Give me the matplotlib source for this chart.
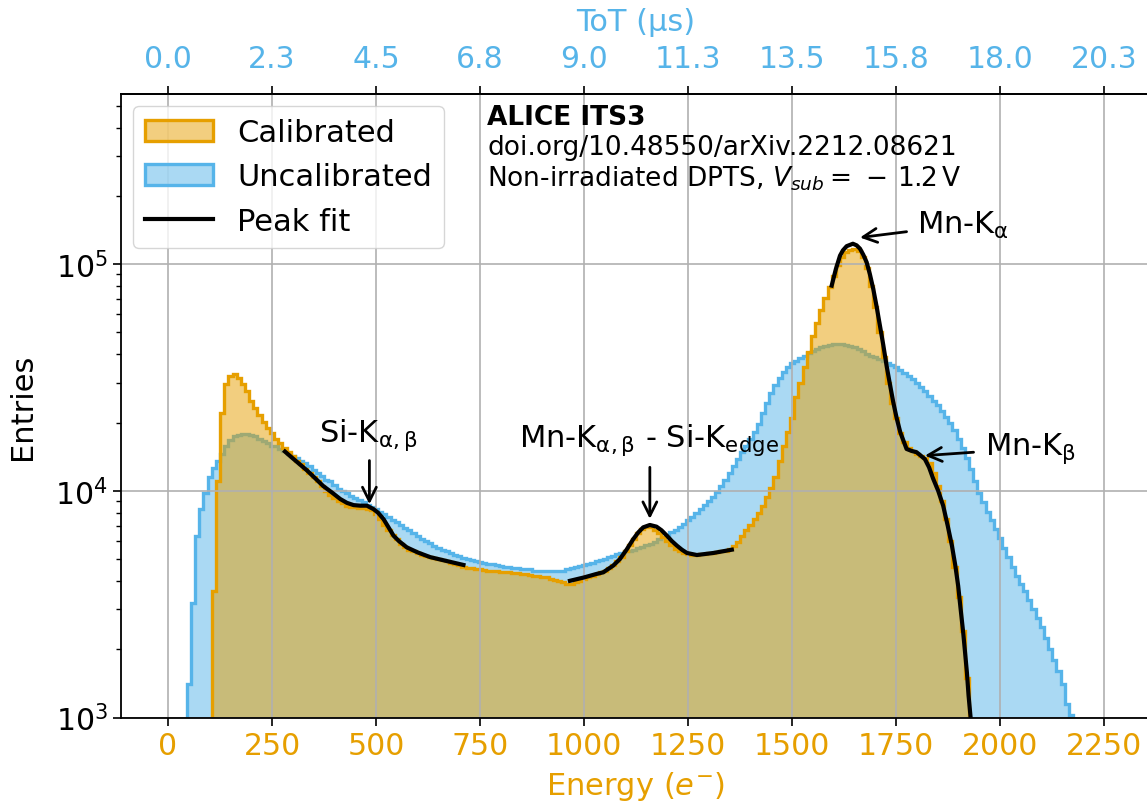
import numpy as np
import matplotlib.pyplot as plt
from matplotlib.colors import to_rgba

ORANGE = '#E69F00'
BLUE = '#56B4E9'

# histogram contents, 10 e- wide bins
bin_width = 10
cal_start = 105
cal_counts = [
    3.6e3, 1.1e4, 2.2e4, 2.95e4, 3.22e4, 3.27e4, 3.15e4, 2.95e4, 2.75e4, 2.5e4,         # 105-205
    2.32e4, 2.15e4, 2.02e4, 1.9e4, 1.8e4, 1.7e4, 1.62e4, 1.55e4, 1.48e4, 1.42e4,        # 205-305
    1.36e4, 1.31e4, 1.25e4, 1.2e4, 1.15e4, 1.1e4, 1.05e4, 1.0e4, 9.6e3, 9.3e3,          # 305-405
    9.0e3, 8.8e3, 8.6e3, 8.5e3, 8.45e3, 8.4e3, 8.4e3, 8.35e3, 8.2e3, 7.9e3,             # 405-505
    7.5e3, 7.1e3, 6.7e3, 6.4e3, 6.1e3, 5.85e3, 5.65e3, 5.5e3, 5.4e3, 5.3e3,             # 505-605
    5.2e3, 5.15e3, 5.1e3, 5.05e3, 5.0e3, 4.95e3, 4.9e3, 4.8e3, 4.75e3, 4.7e3,           # 605-705
    4.62e3, 4.58e3, 4.55e3, 4.52e3, 4.5e3, 4.48e3, 4.45e3, 4.42e3, 4.42e3, 4.4e3,       # 705-805
    4.4e3, 4.38e3, 4.36e3, 4.33e3, 4.3e3, 4.28e3, 4.25e3, 4.22e3, 4.2e3, 4.17e3,        # 805-905
    4.15e3, 4.1e3, 4.05e3, 4.0e3, 3.95e3, 3.9e3, 3.88e3, 3.95e3, 4.02e3, 4.08e3,        # 905-1005
    4.15e3, 4.22e3, 4.3e3, 4.38e3, 4.45e3, 4.55e3, 4.7e3, 4.9e3, 5.1e3, 5.4e3,          # 1005-1105
    5.75e3, 6.1e3, 6.5e3, 6.8e3, 6.95e3, 6.9e3, 6.75e3, 6.5e3, 6.25e3, 6.0e3,           # 1105-1205
    5.75e3, 5.55e3, 5.4e3, 5.3e3, 5.25e3, 5.22e3, 5.22e3, 5.25e3, 5.28e3, 5.3e3,        # 1205-1305
    5.32e3, 5.35e3, 5.4e3, 5.45e3, 5.55e3, 5.7e3, 5.95e3, 6.3e3, 6.7e3, 7.1e3,          # 1305-1405
    7.5e3, 8.0e3, 8.6e3, 9.4e3, 1.03e4, 1.15e4, 1.35e4, 1.58e4, 1.82e4, 2.1e4,          # 1405-1505
    2.6e4, 3.0e4, 3.5e4, 4.1e4, 4.8e4, 5.5e4, 6.3e4, 7.1e4, 7.9e4, 8.9e4,               # 1505-1605
    9.9e4, 1.07e5, 1.13e5, 1.16e5, 1.17e5, 1.14e5, 1.07e5, 9.6e4, 8.0e4, 6.5e4,         # 1605-1705
    5.0e4, 3.9e4, 3.0e4, 2.45e4, 2.1e4, 1.8e4, 1.65e4, 1.55e4, 1.5e4, 1.46e4,           # 1705-1805
    1.43e4, 1.39e4, 1.33e4, 1.2e4, 1.05e4, 9.0e3, 7.5e3, 6.0e3, 4.6e3, 3.4e3,           # 1805-1905
    2.4e3, 1.5e3,                                                                        # 1905-1925
]
uncal_start = 45
uncal_counts = [
    1.4e3, 3.2e3, 6.3e3, 8.3e3, 9.8e3, 1.15e4, 1.26e4, 1.35e4, 1.45e4, 1.58e4,          # 45-145
    1.68e4, 1.74e4, 1.77e4, 1.78e4, 1.78e4, 1.76e4, 1.74e4, 1.70e4, 1.66e4, 1.62e4,     # 145-245
    1.58e4, 1.57e4, 1.53e4, 1.50e4, 1.46e4, 1.43e4, 1.40e4, 1.36e4, 1.32e4, 1.29e4,     # 245-345
    1.24e4, 1.20e4, 1.16e4, 1.12e4, 1.10e4, 1.06e4, 1.02e4, 1.0e4, 9.8e3, 9.5e3,        # 345-445
    9.3e3, 9.1e3, 8.9e3, 8.7e3, 8.5e3, 8.3e3, 8.1e3, 7.9e3, 7.7e3, 7.45e3,              # 445-545
    7.25e3, 7.05e3, 6.85e3, 6.7e3, 6.5e3, 6.35e3, 6.15e3, 6.0e3, 5.9e3, 5.7e3,          # 545-645
    5.6e3, 5.5e3, 5.4e3, 5.3e3, 5.2e3, 5.15e3, 5.05e3, 5.0e3, 4.95e3, 4.9e3,            # 645-745
    4.85e3, 4.8e3, 4.75e3, 4.75e3, 4.7e3, 4.65e3, 4.6e3, 4.6e3, 4.55e3, 4.55e3,         # 745-845
    4.5e3, 4.5e3, 4.5e3, 4.45e3, 4.45e3, 4.45e3, 4.45e3, 4.45e3, 4.45e3, 4.45e3,        # 845-945
    4.45e3, 4.5e3, 4.55e3, 4.6e3, 4.65e3, 4.7e3, 4.75e3, 4.8e3, 4.9e3, 4.95e3,          # 945-1045
    5.0e3, 5.1e3, 5.15e3, 5.25e3, 5.3e3, 5.4e3, 5.45e3, 5.5e3, 5.6e3, 5.65e3,           # 1045-1145
    5.75e3, 5.85e3, 5.95e3, 6.1e3, 6.25e3, 6.35e3, 6.55e3, 6.75e3, 6.95e3, 7.15e3,      # 1145-1245
    7.4e3, 7.65e3, 7.95e3, 8.3e3, 8.65e3, 9.0e3, 9.4e3, 9.9e3, 1.05e4, 1.12e4,          # 1245-1345
    1.2e4, 1.29e4, 1.38e4, 1.48e4, 1.58e4, 1.7e4, 1.82e4, 1.98e4, 2.2e4, 2.45e4,        # 1345-1445
    2.7e4, 2.92e4, 3.15e4, 3.35e4, 3.5e4, 3.65e4, 3.75e4, 3.85e4, 3.95e4, 4.05e4,       # 1445-1545
    4.15e4, 4.22e4, 4.3e4, 4.37e4, 4.42e4, 4.45e4, 4.45e4, 4.44e4, 4.4e4, 4.35e4,       # 1545-1645
    4.3e4, 4.22e4, 4.13e4, 4.03e4, 3.95e4, 3.88e4, 3.82e4, 3.75e4, 3.68e4, 3.6e4,       # 1645-1745
    3.5e4, 3.4e4, 3.32e4, 3.22e4, 3.1e4, 2.98e4, 2.88e4, 2.75e4, 2.62e4, 2.5e4,         # 1745-1845
    2.38e4, 2.25e4, 2.12e4, 2.0e4, 1.85e4, 1.7e4, 1.55e4, 1.4e4, 1.25e4, 1.1e4,         # 1845-1945
    9.8e3, 8.9e3, 8.1e3, 7.4e3, 6.8e3, 6.2e3, 5.6e3, 5.1e3, 4.6e3, 4.2e3,               # 1945-2045
    3.9e3, 3.6e3, 3.3e3, 3.0e3, 2.75e3, 2.5e3, 2.25e3, 2.0e3, 1.8e3, 1.6e3,             # 2045-2145
    1.4e3, 1.15e3, 1.03e3,                                                               # 2145-2175
]

# peak fit curves
si_fit_energy = [281, 300, 334, 355, 373, 395, 414, 430, 446, 462, 478, 494, 505, 518,
                 530, 542, 555, 574, 600, 630, 670, 710]
si_fit_counts = [1.49e4, 1.39e4, 1.23e4, 1.13e4, 1.05e4, 9.8e3, 9.2e3, 8.85e3, 8.65e3,
                 8.6e3, 8.6e3, 8.3e3, 8.0e3, 7.5e3, 6.9e3, 6.34e3, 6.0e3, 5.63e3,
                 5.35e3, 5.1e3, 4.9e3, 4.71e3]
edge_fit_energy = [966, 1000, 1030, 1046, 1070, 1086, 1102, 1118, 1130, 1142, 1158, 1174,
                   1186, 1199, 1211, 1223, 1235, 1247, 1271, 1311, 1355]
edge_fit_counts = [4.01e3, 4.15e3, 4.3e3, 4.37e3, 4.68e3, 5.0e3, 5.5e3, 6.12e3, 6.55e3,
                   6.9e3, 7.07e3, 6.95e3, 6.7e3, 6.34e3, 6.0e3, 5.73e3, 5.5e3, 5.32e3,
                   5.21e3, 5.32e3, 5.5e3]
mn_fit_energy = [1595, 1605, 1615, 1622, 1631, 1646, 1655, 1663, 1671, 1679, 1687, 1695,
                 1703, 1711, 1719, 1727, 1735, 1743, 1751, 1760, 1775, 1787, 1799, 1807,
                 1819, 1829, 1839, 1851, 1863, 1874, 1884, 1892, 1899, 1905, 1911, 1916,
                 1920, 1924, 1930]
mn_fit_counts = [8.04e4, 9.5e4, 1.09e5, 1.15e5, 1.20e5, 1.23e5, 1.21e5, 1.17e5, 1.10e5,
                 1.02e5, 9.0e4, 7.76e4, 6.5e4, 5.35e4, 4.4e4, 3.56e4, 2.95e4, 2.46e4,
                 2.1e4, 1.81e4, 1.53e4, 1.5e4, 1.48e4, 1.44e4, 1.38e4, 1.27e4, 1.13e4,
                 1.0e4, 8.59e3, 7.0e3, 5.73e3, 4.7e3, 3.81e3, 3.0e3, 2.38e3, 1.9e3,
                 1.58e3, 1.25e3, 9.5e2]

energy_ticks = [0, 250, 500, 750, 1000, 1250, 1500, 1750, 2000, 2250]
tot_labels = ['0.0', '2.3', '4.5', '6.8', '9.0', '11.3', '13.5', '15.8', '18.0', '20.3']

fig = plt.figure(figsize=(11.47, 8.04), dpi=100)
ax = fig.add_axes([0.1055, 0.1063, 0.8971, 0.7760])

uncal_edges = uncal_start + bin_width * np.arange(len(uncal_counts) + 1)
cal_edges = cal_start + bin_width * np.arange(len(cal_counts) + 1)
h_uncal = ax.stairs(uncal_counts, uncal_edges, baseline=1, fill=True,
                    facecolor=to_rgba(BLUE, 0.5), edgecolor=BLUE, lw=2.4,
                    label='Uncalibrated')
h_cal = ax.stairs(cal_counts, cal_edges, baseline=1, fill=True,
                  facecolor=to_rgba(ORANGE, 0.5), edgecolor=ORANGE, lw=2.4,
                  label='Calibrated')

fit_line, = ax.plot(si_fit_energy, si_fit_counts, color='k', lw=3, label='Peak fit')
ax.plot(edge_fit_energy, edge_fit_counts, color='k', lw=3)
ax.plot(mn_fit_energy, mn_fit_counts, color='k', lw=3)

ax.set_yscale('log')
ax.set_xlim(-113, 2360)
ax.set_ylim(1e3, 5.65e5)
ax.set_xticks(energy_ticks)
ax.grid(True, which='major', color='#b0b0b0', lw=1.2)
ax.tick_params(axis='both', which='major', labelsize=21.5, length=6, width=1.2)
ax.tick_params(axis='y', which='minor', length=3.5, width=1.0)
ax.tick_params(axis='x', labelcolor=ORANGE)
for s in ax.spines.values():
    s.set_linewidth(1.3)

ax.set_xlabel('Energy ($e^{-}$)', color=ORANGE, fontsize=22, labelpad=7)
ax.set_ylabel('Entries', fontsize=22, labelpad=13)

sec = ax.secondary_xaxis('top')
sec.set_xticks(energy_ticks, labels=tot_labels)
sec.tick_params(axis='x', labelsize=21.5, length=6, width=1.2, pad=9, labelcolor=BLUE)
sec.set_xlabel('ToT (µs)', color=BLUE, fontsize=22, labelpad=10)
sec.spines['top'].set_linewidth(1.3)

ax.legend(handles=[h_cal, h_uncal, fit_line], loc='upper left', fontsize=22,
          handlelength=2.2, borderaxespad=0.4)

ax.text(0.3557, 0.9512, 'ALICE ITS3', transform=ax.transAxes, fontsize=19,
        fontweight='bold', va='baseline')
ax.text(0.3557, 0.9030, 'doi.org/10.48550/arXiv.2212.08621', transform=ax.transAxes,
        fontsize=19, va='baseline')
ax.text(0.3557, 0.8524, r'Non-irradiated DPTS, $V_{sub} = \,-\,1.2\,\mathrm{V}$',
        transform=ax.transAxes, fontsize=19, va='baseline')

arrow = dict(arrowstyle='->', color='k', lw=2, mutation_scale=25, shrinkA=0, shrinkB=0)

ax.text(481, 1.66e4, r'Si-K$_{\mathrm{\alpha, \beta}}$', fontsize=22, ha='center',
        va='baseline')
ax.annotate('', xy=(484, 8.73e3), xytext=(484, 1.36e4), arrowprops=arrow)

ax.text(1156, 1.58e4, r'Mn-K$_{\mathrm{\alpha, \beta}}$ - Si-K$_{\mathrm{edge}}$',
        fontsize=22, ha='center', va='baseline')
ax.annotate('', xy=(1158, 7.52e3), xytext=(1158, 1.27e4), arrowprops=arrow)

ax.text(1799, 1.37e5, r'Mn-K$_{\mathrm{\alpha}}$', fontsize=22, ha='left', va='baseline')
ax.annotate('', xy=(1663, 1.31e5), xytext=(1775, 1.39e5), arrowprops=arrow)

ax.text(1963, 1.45e4, r'Mn-K$_{\mathrm{\beta}}$', fontsize=22, ha='left', va='baseline')
ax.annotate('', xy=(1819, 1.43e4), xytext=(1936, 1.48e4), arrowprops=arrow)

fig.savefig('out.png', dpi=100)
